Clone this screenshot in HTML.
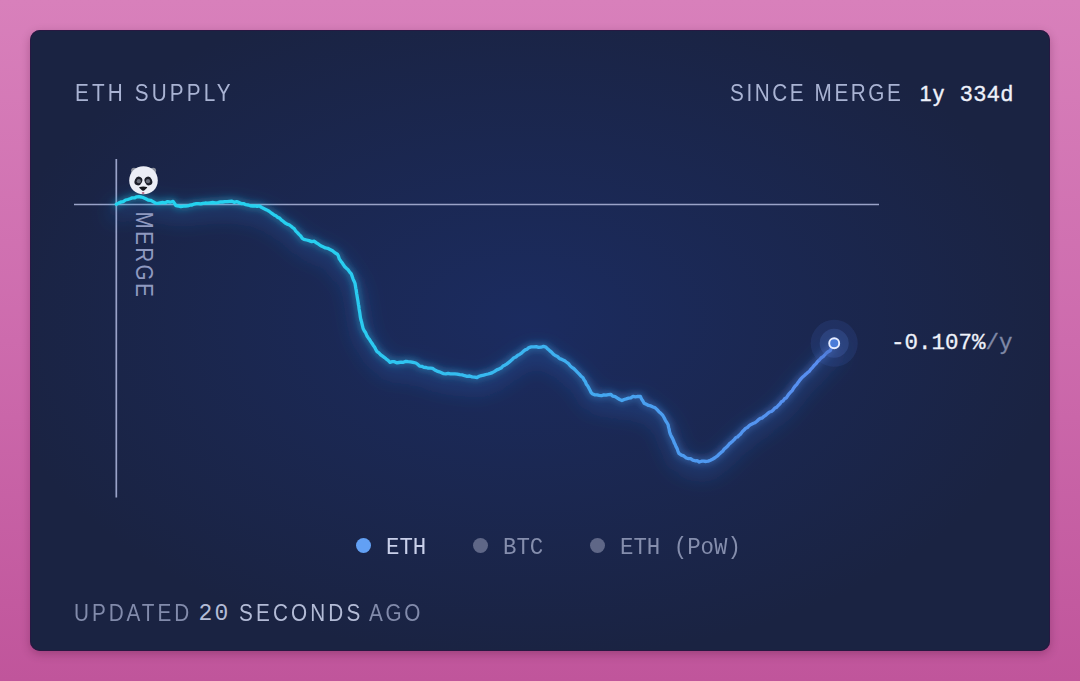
<!DOCTYPE html>
<html><head><meta charset="utf-8">
<style>
html,body{margin:0;padding:0;width:1080px;height:681px;overflow:hidden;}
body{background:linear-gradient(180deg,#d880bb 0%,#cd6bad 50%,#c0559b 100%);position:relative;font-family:"Liberation Sans",sans-serif;}
.card{position:absolute;left:30px;top:29.5px;width:1020px;height:621px;border-radius:10px;background:#1a2342;box-shadow:0 3px 10px rgba(60,0,40,0.28);overflow:hidden;}
.glow{position:absolute;left:0;top:0;width:1020px;height:621px;background:radial-gradient(ellipse 540px 340px at 495px 290px,rgba(28,52,125,0.5),rgba(28,52,125,0) 100%);}
.edge{position:absolute;left:30px;top:29.5px;width:1020px;height:621px;border-radius:10px;box-shadow:inset 0 0 0 1px rgba(45,20,65,0.75);pointer-events:none;}
.t{position:absolute;white-space:nowrap;}
.title{left:44.7px;top:50.5px;font-size:23px;letter-spacing:3.5px;color:#a9b3d3;transform:scaleX(0.9);transform-origin:0 0;}
.since{left:700px;top:50.5px;font-size:23px;letter-spacing:2.88px;color:#a9b3d3;transform:scaleX(0.9);transform-origin:0 0;}
.val{top:51px;font-size:22px;color:#eef1fa;letter-spacing:1.3px;-webkit-text-stroke:0.35px #eef1fa}
svg{position:absolute;left:0;top:0;}
.mono{font-family:"Liberation Mono",monospace;}

.merge{left:135px;top:212px;font-size:22px;letter-spacing:2px;color:#8f99c0;transform-origin:0 0;}
.rate{left:861px;top:300px;font-size:22.5px;color:#eef1fa;-webkit-text-stroke:0.3px #eef1fa;}
.rate span{-webkit-text-stroke:0.3px #7f88a6;}
.rate span{color:#7f88a6;}
.leg{top:503.5px;font-size:22.4px;transform:scaleY(1.08);transform-origin:0 0;}
.dot{position:absolute;width:15px;height:15px;border-radius:50%;margin:-0.5px 0 0 -0.5px}
.foot{top:570.2px;font-size:23px;color:#828bab;}
.fs{letter-spacing:3px;transform:scaleX(0.9);transform-origin:0 0;}
.foot b{font-weight:normal;color:#b3bbd6;}
</style></head><body>
<div class="card">
<div class="glow"></div>
<div class="t title">ETH SUPPLY</div>
<div class="t since">SINCE MERGE</div>
<div class="t val" style="left:889.5px">1y</div><div class="t val" style="left:930.2px">334d</div>

<div class="t rate mono">-0.107%<span>/y</span></div>
<div class="dot" style="left:326px;top:509px;background:#62a0f4"></div>
<div class="t leg mono" style="left:356px;color:#c9d0ea">ETH</div>
<div class="dot" style="left:443px;top:509px;background:#5f6787"></div>
<div class="t leg mono" style="left:473px;color:#858ead">BTC</div>
<div class="dot" style="left:560px;top:509px;background:#5f6787"></div>
<div class="t leg mono" style="left:590px;color:#858ead">ETH (PoW)</div>
<div class="t foot fs" style="left:43.6px;letter-spacing:3.3px">UPDATED</div><div class="t foot mono" style="left:168.5px;top:571.7px;color:#b3bbd6;letter-spacing:2.2px">20</div><div class="t foot fs" style="left:208.5px;color:#b3bbd6;letter-spacing:3.5px">SECONDS</div><div class="t foot fs" style="left:338.6px">AGO</div>
</div>

<div class="edge"></div>
<svg width="1080" height="681" viewBox="0 0 1080 681">
<defs>
<linearGradient id="lg" x1="116" y1="0" x2="834" y2="0" gradientUnits="userSpaceOnUse">
<stop offset="0" stop-color="#22d4ee"/>
<stop offset="0.3" stop-color="#28cff0"/>
<stop offset="0.45" stop-color="#33c0f0"/>
<stop offset="0.6" stop-color="#3db2f0"/>
<stop offset="0.75" stop-color="#4b9ef0"/>
<stop offset="1" stop-color="#5a8cf0"/>
</linearGradient>
<filter id="blur" x="-20%" y="-20%" width="140%" height="140%"><feGaussianBlur stdDeviation="10"/></filter>
<filter id="blur2" x="-20%" y="-20%" width="140%" height="140%"><feGaussianBlur stdDeviation="3"/></filter>
</defs>
<line x1="74" y1="204.5" x2="879" y2="204.5" stroke="#9aa3c8" stroke-width="1.7"/>
<line x1="116.3" y1="159" x2="116.3" y2="497.5" stroke="#9aa3c8" stroke-width="1.7"/>
<polyline id="pl" transform="translate(0,8)" fill="none" stroke="#2a6fd0" stroke-opacity="0.3" stroke-width="14" filter="url(#blur)" stroke-linejoin="round" stroke-linecap="round" points="116.3,204.3 118.6,203.1 120.9,202.0 123.2,201.6 125.5,200.0 127.8,199.5 130.0,198.8 132.2,197.9 134.5,197.9 136.7,196.8 138.9,196.7 141.2,197.0 143.5,197.7 145.8,198.8 148.1,200.0 150.6,200.3 153.1,201.6 155.6,203.1 157.9,203.3 160.2,202.8 162.5,202.4 164.8,202.9 167.6,201.6 170.3,202.2 173.1,201.3 174.5,203.4 175.9,205.7 178.4,206.0 180.8,206.7 183.3,206.1 185.5,206.2 187.6,205.9 189.8,205.2 192.0,205.0 194.1,204.1 196.3,203.7 198.5,203.6 200.7,203.9 203.0,203.4 205.2,203.0 207.4,203.1 210.0,202.8 212.6,202.5 215.2,202.8 217.8,202.6 220.4,201.9 222.7,202.0 225.0,201.6 227.3,201.7 229.6,201.3 231.9,201.1 234.2,202.3 236.6,201.7 238.9,202.4 241.2,203.5 243.5,203.6 245.8,204.7 248.1,205.0 250.3,205.8 252.6,206.0 254.8,205.9 257.1,206.4 259.3,205.9 261.8,207.5 264.2,208.7 266.7,209.9 269.1,211.3 271.6,213.2 274.0,214.9 275.9,215.8 277.8,217.4 279.6,218.1 281.5,220.2 283.4,221.4 285.2,223.0 287.1,224.1 288.9,224.7 290.8,226.0 292.6,227.6 294.2,228.7 295.8,231.1 297.4,232.6 299.0,234.4 300.7,236.0 302.3,238.4 304.0,239.4 306.6,240.0 309.1,240.6 311.7,241.6 314.3,241.2 316.4,242.9 318.6,244.2 320.7,245.8 323.0,246.8 325.4,247.9 327.7,248.3 330.0,249.5 332.5,250.8 334.9,252.8 337.4,254.2 338.4,256.1 339.3,258.9 340.7,260.9 342.1,262.7 343.4,264.8 344.8,266.8 346.4,268.3 348.1,269.8 349.7,272.1 351.3,273.9 352.2,276.4 353.1,279.1 354.1,281.2 355.0,283.3 355.4,285.8 355.8,288.3 356.2,290.0 356.6,293.3 357.0,295.5 357.4,298.0 357.8,300.3 358.1,302.1 358.4,304.3 358.8,306.2 359.1,309.0 359.4,310.6 359.8,312.9 360.1,315.3 360.4,317.4 360.9,319.8 361.5,321.7 362.0,323.9 362.6,326.3 363.1,328.5 364.4,331.0 365.7,332.8 367.0,336.0 368.3,337.9 369.6,339.6 370.8,341.6 372.1,343.5 373.3,345.4 374.5,347.0 375.8,349.6 377.0,351.6 378.9,352.9 380.7,354.8 382.6,356.2 384.5,357.6 386.3,359.1 388.1,360.3 390.0,362.3 392.2,361.7 394.4,361.7 396.7,362.8 398.9,362.5 401.1,362.2 403.4,362.3 405.8,361.4 408.1,361.7 410.4,361.8 413.1,362.4 415.9,363.0 417.8,364.3 419.6,366.2 421.8,366.3 423.9,367.4 426.1,367.5 428.3,368.2 430.4,368.1 432.6,368.4 434.8,370.0 437.0,371.1 439.3,371.8 441.5,372.7 443.7,373.7 445.9,373.8 448.1,373.4 450.4,373.9 452.6,373.9 454.8,373.8 457.3,374.1 459.7,374.7 462.2,374.9 464.7,375.7 467.1,376.3 469.6,376.0 472.1,376.9 474.5,377.2 477.0,377.5 479.2,376.3 481.4,375.6 483.7,375.1 485.9,374.5 488.1,374.0 490.3,373.4 492.4,372.6 494.6,371.4 496.8,369.9 498.9,369.1 501.1,368.1 503.0,366.0 504.8,365.2 506.6,364.1 508.5,362.6 510.4,361.1 512.2,359.5 514.0,357.7 515.9,357.0 517.8,355.2 519.6,354.4 521.5,353.2 523.3,351.3 525.2,349.9 527.0,349.2 528.9,347.6 531.3,346.9 533.8,346.8 536.2,346.7 538.6,347.4 541.0,347.2 543.5,346.4 545.9,347.1 547.8,349.1 549.6,350.6 551.5,352.1 553.3,354.1 555.2,355.5 557.4,356.5 559.6,358.7 561.9,359.4 564.1,360.4 566.3,362.0 568.2,363.3 570.0,365.6 571.9,367.4 573.7,368.5 575.6,370.4 577.5,372.3 579.3,374.1 581.1,376.3 583.0,377.8 584.1,380.0 585.3,381.6 586.5,384.5 587.6,385.8 588.8,387.9 589.9,390.0 591.1,392.4 592.2,393.8 594.5,394.8 596.9,394.8 599.2,395.3 601.5,395.7 603.8,394.9 606.1,395.2 608.4,394.7 610.7,394.3 612.9,396.2 615.2,396.7 617.4,398.1 619.7,399.5 621.9,400.5 624.1,399.5 626.3,398.9 628.6,398.2 630.8,397.8 633.0,396.3 635.5,396.8 637.9,396.4 640.4,396.5 641.6,399.1 642.9,401.0 644.1,403.2 646.3,404.3 648.5,405.4 650.8,405.9 653.0,407.0 655.2,407.8 657.1,409.7 658.9,411.7 660.8,413.3 662.6,415.2 664.0,417.5 665.4,420.3 666.7,422.3 668.1,424.8 668.6,427.4 669.1,429.1 669.6,432.0 670.5,434.6 671.5,436.7 672.4,438.2 673.4,440.4 674.3,442.9 675.2,444.5 676.1,446.8 677.1,448.6 678.0,451.3 678.9,453.4 681.4,455.1 683.8,455.9 686.3,458.0 688.5,458.6 690.6,458.6 692.8,460.1 695.0,460.8 697.1,460.6 699.3,462.0 701.5,461.2 703.7,461.1 706.0,461.5 708.2,461.1 710.4,460.2 712.9,459.0 715.3,457.5 717.8,455.7 719.4,453.9 721.1,452.4 722.7,451.2 724.4,448.8 726.0,447.7 727.7,446.0 729.3,443.9 731.0,442.6 732.6,441.2 734.2,439.6 735.9,437.5 737.5,437.0 739.2,435.2 740.8,433.9 742.5,431.4 744.1,430.0 745.8,428.2 747.4,427.5 749.2,425.7 751.1,424.4 753.0,423.5 754.8,422.8 756.6,421.5 758.5,419.7 760.4,418.3 762.2,418.0 764.1,416.3 765.9,415.2 767.8,413.3 769.6,412.0 771.4,411.5 773.3,409.9 774.9,408.0 776.5,407.4 778.2,405.5 779.8,404.1 781.4,401.7 783.0,401.0 784.7,398.6 786.3,397.9 787.8,395.6 789.3,393.6 790.7,392.0 792.2,390.6 793.7,388.0 795.2,386.0 796.7,384.6 798.1,382.4 799.6,380.4 801.1,378.6 802.7,376.9 804.4,375.5 806.0,374.1 807.7,372.5 809.3,371.4 810.9,369.1 812.5,367.6 814.1,365.5 815.8,363.9 817.4,361.8 819.0,360.3 821.0,358.0 823.1,356.7 825.1,354.5 826.9,352.6 828.6,351.4 830.4,350.5 831.7,347.3 832.9,345.9 834.2,343.3"/>
<polyline id="pl1" fill="none" stroke="url(#lg)" stroke-opacity="0.35" stroke-width="7" filter="url(#blur2)" stroke-linejoin="round" stroke-linecap="round" points="116.3,204.3 118.6,203.1 120.9,202.0 123.2,201.6 125.5,200.0 127.8,199.5 130.0,198.8 132.2,197.9 134.5,197.9 136.7,196.8 138.9,196.7 141.2,197.0 143.5,197.7 145.8,198.8 148.1,200.0 150.6,200.3 153.1,201.6 155.6,203.1 157.9,203.3 160.2,202.8 162.5,202.4 164.8,202.9 167.6,201.6 170.3,202.2 173.1,201.3 174.5,203.4 175.9,205.7 178.4,206.0 180.8,206.7 183.3,206.1 185.5,206.2 187.6,205.9 189.8,205.2 192.0,205.0 194.1,204.1 196.3,203.7 198.5,203.6 200.7,203.9 203.0,203.4 205.2,203.0 207.4,203.1 210.0,202.8 212.6,202.5 215.2,202.8 217.8,202.6 220.4,201.9 222.7,202.0 225.0,201.6 227.3,201.7 229.6,201.3 231.9,201.1 234.2,202.3 236.6,201.7 238.9,202.4 241.2,203.5 243.5,203.6 245.8,204.7 248.1,205.0 250.3,205.8 252.6,206.0 254.8,205.9 257.1,206.4 259.3,205.9 261.8,207.5 264.2,208.7 266.7,209.9 269.1,211.3 271.6,213.2 274.0,214.9 275.9,215.8 277.8,217.4 279.6,218.1 281.5,220.2 283.4,221.4 285.2,223.0 287.1,224.1 288.9,224.7 290.8,226.0 292.6,227.6 294.2,228.7 295.8,231.1 297.4,232.6 299.0,234.4 300.7,236.0 302.3,238.4 304.0,239.4 306.6,240.0 309.1,240.6 311.7,241.6 314.3,241.2 316.4,242.9 318.6,244.2 320.7,245.8 323.0,246.8 325.4,247.9 327.7,248.3 330.0,249.5 332.5,250.8 334.9,252.8 337.4,254.2 338.4,256.1 339.3,258.9 340.7,260.9 342.1,262.7 343.4,264.8 344.8,266.8 346.4,268.3 348.1,269.8 349.7,272.1 351.3,273.9 352.2,276.4 353.1,279.1 354.1,281.2 355.0,283.3 355.4,285.8 355.8,288.3 356.2,290.0 356.6,293.3 357.0,295.5 357.4,298.0 357.8,300.3 358.1,302.1 358.4,304.3 358.8,306.2 359.1,309.0 359.4,310.6 359.8,312.9 360.1,315.3 360.4,317.4 360.9,319.8 361.5,321.7 362.0,323.9 362.6,326.3 363.1,328.5 364.4,331.0 365.7,332.8 367.0,336.0 368.3,337.9 369.6,339.6 370.8,341.6 372.1,343.5 373.3,345.4 374.5,347.0 375.8,349.6 377.0,351.6 378.9,352.9 380.7,354.8 382.6,356.2 384.5,357.6 386.3,359.1 388.1,360.3 390.0,362.3 392.2,361.7 394.4,361.7 396.7,362.8 398.9,362.5 401.1,362.2 403.4,362.3 405.8,361.4 408.1,361.7 410.4,361.8 413.1,362.4 415.9,363.0 417.8,364.3 419.6,366.2 421.8,366.3 423.9,367.4 426.1,367.5 428.3,368.2 430.4,368.1 432.6,368.4 434.8,370.0 437.0,371.1 439.3,371.8 441.5,372.7 443.7,373.7 445.9,373.8 448.1,373.4 450.4,373.9 452.6,373.9 454.8,373.8 457.3,374.1 459.7,374.7 462.2,374.9 464.7,375.7 467.1,376.3 469.6,376.0 472.1,376.9 474.5,377.2 477.0,377.5 479.2,376.3 481.4,375.6 483.7,375.1 485.9,374.5 488.1,374.0 490.3,373.4 492.4,372.6 494.6,371.4 496.8,369.9 498.9,369.1 501.1,368.1 503.0,366.0 504.8,365.2 506.6,364.1 508.5,362.6 510.4,361.1 512.2,359.5 514.0,357.7 515.9,357.0 517.8,355.2 519.6,354.4 521.5,353.2 523.3,351.3 525.2,349.9 527.0,349.2 528.9,347.6 531.3,346.9 533.8,346.8 536.2,346.7 538.6,347.4 541.0,347.2 543.5,346.4 545.9,347.1 547.8,349.1 549.6,350.6 551.5,352.1 553.3,354.1 555.2,355.5 557.4,356.5 559.6,358.7 561.9,359.4 564.1,360.4 566.3,362.0 568.2,363.3 570.0,365.6 571.9,367.4 573.7,368.5 575.6,370.4 577.5,372.3 579.3,374.1 581.1,376.3 583.0,377.8 584.1,380.0 585.3,381.6 586.5,384.5 587.6,385.8 588.8,387.9 589.9,390.0 591.1,392.4 592.2,393.8 594.5,394.8 596.9,394.8 599.2,395.3 601.5,395.7 603.8,394.9 606.1,395.2 608.4,394.7 610.7,394.3 612.9,396.2 615.2,396.7 617.4,398.1 619.7,399.5 621.9,400.5 624.1,399.5 626.3,398.9 628.6,398.2 630.8,397.8 633.0,396.3 635.5,396.8 637.9,396.4 640.4,396.5 641.6,399.1 642.9,401.0 644.1,403.2 646.3,404.3 648.5,405.4 650.8,405.9 653.0,407.0 655.2,407.8 657.1,409.7 658.9,411.7 660.8,413.3 662.6,415.2 664.0,417.5 665.4,420.3 666.7,422.3 668.1,424.8 668.6,427.4 669.1,429.1 669.6,432.0 670.5,434.6 671.5,436.7 672.4,438.2 673.4,440.4 674.3,442.9 675.2,444.5 676.1,446.8 677.1,448.6 678.0,451.3 678.9,453.4 681.4,455.1 683.8,455.9 686.3,458.0 688.5,458.6 690.6,458.6 692.8,460.1 695.0,460.8 697.1,460.6 699.3,462.0 701.5,461.2 703.7,461.1 706.0,461.5 708.2,461.1 710.4,460.2 712.9,459.0 715.3,457.5 717.8,455.7 719.4,453.9 721.1,452.4 722.7,451.2 724.4,448.8 726.0,447.7 727.7,446.0 729.3,443.9 731.0,442.6 732.6,441.2 734.2,439.6 735.9,437.5 737.5,437.0 739.2,435.2 740.8,433.9 742.5,431.4 744.1,430.0 745.8,428.2 747.4,427.5 749.2,425.7 751.1,424.4 753.0,423.5 754.8,422.8 756.6,421.5 758.5,419.7 760.4,418.3 762.2,418.0 764.1,416.3 765.9,415.2 767.8,413.3 769.6,412.0 771.4,411.5 773.3,409.9 774.9,408.0 776.5,407.4 778.2,405.5 779.8,404.1 781.4,401.7 783.0,401.0 784.7,398.6 786.3,397.9 787.8,395.6 789.3,393.6 790.7,392.0 792.2,390.6 793.7,388.0 795.2,386.0 796.7,384.6 798.1,382.4 799.6,380.4 801.1,378.6 802.7,376.9 804.4,375.5 806.0,374.1 807.7,372.5 809.3,371.4 810.9,369.1 812.5,367.6 814.1,365.5 815.8,363.9 817.4,361.8 819.0,360.3 821.0,358.0 823.1,356.7 825.1,354.5 826.9,352.6 828.6,351.4 830.4,350.5 831.7,347.3 832.9,345.9 834.2,343.3"/>
<polyline id="pl2" fill="none" stroke="url(#lg)" stroke-width="3.3" stroke-linejoin="round" stroke-linecap="round" points="116.3,204.3 118.6,203.1 120.9,202.0 123.2,201.6 125.5,200.0 127.8,199.5 130.0,198.8 132.2,197.9 134.5,197.9 136.7,196.8 138.9,196.7 141.2,197.0 143.5,197.7 145.8,198.8 148.1,200.0 150.6,200.3 153.1,201.6 155.6,203.1 157.9,203.3 160.2,202.8 162.5,202.4 164.8,202.9 167.6,201.6 170.3,202.2 173.1,201.3 174.5,203.4 175.9,205.7 178.4,206.0 180.8,206.7 183.3,206.1 185.5,206.2 187.6,205.9 189.8,205.2 192.0,205.0 194.1,204.1 196.3,203.7 198.5,203.6 200.7,203.9 203.0,203.4 205.2,203.0 207.4,203.1 210.0,202.8 212.6,202.5 215.2,202.8 217.8,202.6 220.4,201.9 222.7,202.0 225.0,201.6 227.3,201.7 229.6,201.3 231.9,201.1 234.2,202.3 236.6,201.7 238.9,202.4 241.2,203.5 243.5,203.6 245.8,204.7 248.1,205.0 250.3,205.8 252.6,206.0 254.8,205.9 257.1,206.4 259.3,205.9 261.8,207.5 264.2,208.7 266.7,209.9 269.1,211.3 271.6,213.2 274.0,214.9 275.9,215.8 277.8,217.4 279.6,218.1 281.5,220.2 283.4,221.4 285.2,223.0 287.1,224.1 288.9,224.7 290.8,226.0 292.6,227.6 294.2,228.7 295.8,231.1 297.4,232.6 299.0,234.4 300.7,236.0 302.3,238.4 304.0,239.4 306.6,240.0 309.1,240.6 311.7,241.6 314.3,241.2 316.4,242.9 318.6,244.2 320.7,245.8 323.0,246.8 325.4,247.9 327.7,248.3 330.0,249.5 332.5,250.8 334.9,252.8 337.4,254.2 338.4,256.1 339.3,258.9 340.7,260.9 342.1,262.7 343.4,264.8 344.8,266.8 346.4,268.3 348.1,269.8 349.7,272.1 351.3,273.9 352.2,276.4 353.1,279.1 354.1,281.2 355.0,283.3 355.4,285.8 355.8,288.3 356.2,290.0 356.6,293.3 357.0,295.5 357.4,298.0 357.8,300.3 358.1,302.1 358.4,304.3 358.8,306.2 359.1,309.0 359.4,310.6 359.8,312.9 360.1,315.3 360.4,317.4 360.9,319.8 361.5,321.7 362.0,323.9 362.6,326.3 363.1,328.5 364.4,331.0 365.7,332.8 367.0,336.0 368.3,337.9 369.6,339.6 370.8,341.6 372.1,343.5 373.3,345.4 374.5,347.0 375.8,349.6 377.0,351.6 378.9,352.9 380.7,354.8 382.6,356.2 384.5,357.6 386.3,359.1 388.1,360.3 390.0,362.3 392.2,361.7 394.4,361.7 396.7,362.8 398.9,362.5 401.1,362.2 403.4,362.3 405.8,361.4 408.1,361.7 410.4,361.8 413.1,362.4 415.9,363.0 417.8,364.3 419.6,366.2 421.8,366.3 423.9,367.4 426.1,367.5 428.3,368.2 430.4,368.1 432.6,368.4 434.8,370.0 437.0,371.1 439.3,371.8 441.5,372.7 443.7,373.7 445.9,373.8 448.1,373.4 450.4,373.9 452.6,373.9 454.8,373.8 457.3,374.1 459.7,374.7 462.2,374.9 464.7,375.7 467.1,376.3 469.6,376.0 472.1,376.9 474.5,377.2 477.0,377.5 479.2,376.3 481.4,375.6 483.7,375.1 485.9,374.5 488.1,374.0 490.3,373.4 492.4,372.6 494.6,371.4 496.8,369.9 498.9,369.1 501.1,368.1 503.0,366.0 504.8,365.2 506.6,364.1 508.5,362.6 510.4,361.1 512.2,359.5 514.0,357.7 515.9,357.0 517.8,355.2 519.6,354.4 521.5,353.2 523.3,351.3 525.2,349.9 527.0,349.2 528.9,347.6 531.3,346.9 533.8,346.8 536.2,346.7 538.6,347.4 541.0,347.2 543.5,346.4 545.9,347.1 547.8,349.1 549.6,350.6 551.5,352.1 553.3,354.1 555.2,355.5 557.4,356.5 559.6,358.7 561.9,359.4 564.1,360.4 566.3,362.0 568.2,363.3 570.0,365.6 571.9,367.4 573.7,368.5 575.6,370.4 577.5,372.3 579.3,374.1 581.1,376.3 583.0,377.8 584.1,380.0 585.3,381.6 586.5,384.5 587.6,385.8 588.8,387.9 589.9,390.0 591.1,392.4 592.2,393.8 594.5,394.8 596.9,394.8 599.2,395.3 601.5,395.7 603.8,394.9 606.1,395.2 608.4,394.7 610.7,394.3 612.9,396.2 615.2,396.7 617.4,398.1 619.7,399.5 621.9,400.5 624.1,399.5 626.3,398.9 628.6,398.2 630.8,397.8 633.0,396.3 635.5,396.8 637.9,396.4 640.4,396.5 641.6,399.1 642.9,401.0 644.1,403.2 646.3,404.3 648.5,405.4 650.8,405.9 653.0,407.0 655.2,407.8 657.1,409.7 658.9,411.7 660.8,413.3 662.6,415.2 664.0,417.5 665.4,420.3 666.7,422.3 668.1,424.8 668.6,427.4 669.1,429.1 669.6,432.0 670.5,434.6 671.5,436.7 672.4,438.2 673.4,440.4 674.3,442.9 675.2,444.5 676.1,446.8 677.1,448.6 678.0,451.3 678.9,453.4 681.4,455.1 683.8,455.9 686.3,458.0 688.5,458.6 690.6,458.6 692.8,460.1 695.0,460.8 697.1,460.6 699.3,462.0 701.5,461.2 703.7,461.1 706.0,461.5 708.2,461.1 710.4,460.2 712.9,459.0 715.3,457.5 717.8,455.7 719.4,453.9 721.1,452.4 722.7,451.2 724.4,448.8 726.0,447.7 727.7,446.0 729.3,443.9 731.0,442.6 732.6,441.2 734.2,439.6 735.9,437.5 737.5,437.0 739.2,435.2 740.8,433.9 742.5,431.4 744.1,430.0 745.8,428.2 747.4,427.5 749.2,425.7 751.1,424.4 753.0,423.5 754.8,422.8 756.6,421.5 758.5,419.7 760.4,418.3 762.2,418.0 764.1,416.3 765.9,415.2 767.8,413.3 769.6,412.0 771.4,411.5 773.3,409.9 774.9,408.0 776.5,407.4 778.2,405.5 779.8,404.1 781.4,401.7 783.0,401.0 784.7,398.6 786.3,397.9 787.8,395.6 789.3,393.6 790.7,392.0 792.2,390.6 793.7,388.0 795.2,386.0 796.7,384.6 798.1,382.4 799.6,380.4 801.1,378.6 802.7,376.9 804.4,375.5 806.0,374.1 807.7,372.5 809.3,371.4 810.9,369.1 812.5,367.6 814.1,365.5 815.8,363.9 817.4,361.8 819.0,360.3 821.0,358.0 823.1,356.7 825.1,354.5 826.9,352.6 828.6,351.4 830.4,350.5 831.7,347.3 832.9,345.9 834.2,343.3"/>

<text x="0" y="0" transform="translate(136,211.5) rotate(90) scale(0.9,1)" font-family="Liberation Sans" font-size="23" letter-spacing="2.6" fill="#8f99c0">MERGE</text>
<g id="panda">
<circle cx="134" cy="170.6" r="2.9" fill="#8c909c"/>
<circle cx="153.2" cy="170.6" r="2.9" fill="#8c909c"/>
<path d="M143.5,166.3 C151.5,166.3 157.8,172 157.8,180.5 C157.8,188.5 151.5,194.3 143.5,194.3 C135.5,194.3 129.2,188.5 129.2,180.5 C129.2,172 135.5,166.3 143.5,166.3 Z" fill="#eceef6"/>
<ellipse cx="138.4" cy="181" rx="3.7" ry="4.5" fill="#1d1f29" transform="rotate(25 138.4 181)"/>
<ellipse cx="148.4" cy="181" rx="3.7" ry="4.5" fill="#1d1f29" transform="rotate(-25 148.4 181)"/>
<circle cx="138.8" cy="181.2" r="2.1" fill="#6c707c"/>
<circle cx="148" cy="181.2" r="2.1" fill="#6c707c"/>
<path d="M139.6,186.9 Q143.2,186.1 146.8,186.9 Q147.6,187.3 146.9,188 L144.2,190.5 Q143.2,191.2 142.2,190.5 L139.5,188 Q138.8,187.3 139.6,186.9 Z" fill="#15161c"/>
<ellipse cx="143.1" cy="193" rx="1.4" ry="1" fill="#b86a88"/>
</g>
<filter id="hb" x="-50%" y="-50%" width="200%" height="200%"><feGaussianBlur stdDeviation="0.7"/></filter>
<g filter="url(#hb)"><circle cx="834.2" cy="343.3" r="23.5" fill="#3a5ba8" fill-opacity="0.2"/>
<circle cx="834.2" cy="343.3" r="14.5" fill="#4a6cc0" fill-opacity="0.28"/></g>
<circle cx="834.2" cy="343.3" r="5" fill="#4a7bd8" stroke="#e6ecff" stroke-width="1.9"/>
</svg>
</body></html>
